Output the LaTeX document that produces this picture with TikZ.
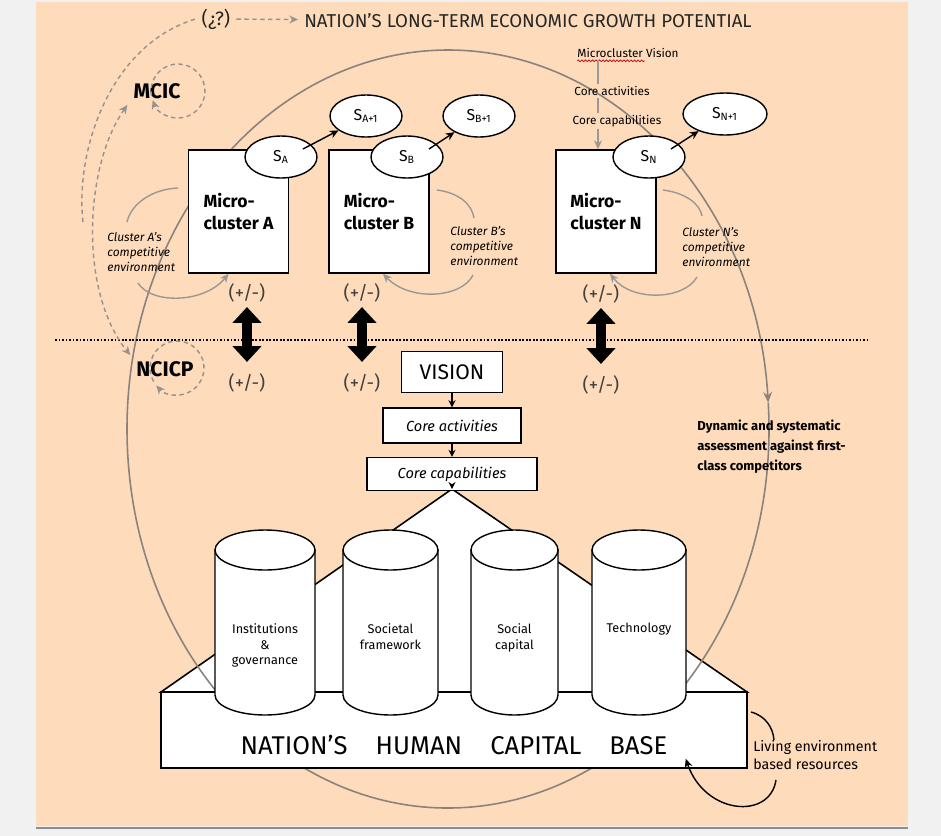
\documentclass[tikz,border=0pt]{standalone}
\usepackage{fontspec}
\setmainfont{Fira Sans}
\usetikzlibrary{arrows.meta,positioning,shapes.geometric,decorations.pathmorphing}
\definecolor{peach}{RGB}{253,219,187}
\definecolor{framegray}{RGB}{241,241,241}
\definecolor{loopgray}{RGB}{138,130,124}
\definecolor{envgray}{RGB}{155,152,150}
\definecolor{dashgray}{RGB}{150,146,142}
\newcommand{\fsz}[2]{\fontsize{#1}{#2}\selectfont}

\begin{document}
\begin{tikzpicture}[x=0.02cm,y=-0.02cm,
  box/.style={draw,fill=white,line width=0.9pt,minimum width=2cm,minimum height=2.46cm,align=left,font=\bfseries\fsz{10}{13}},
  sbox/.style={ellipse,draw,fill=white,line width=0.8pt,minimum width=1.44cm,minimum height=0.84cm,inner sep=0pt,font=\fsz{9}{10}},
  sarrow/.style={line width=0.8pt,-{Stealth[length=5pt,width=4.5pt]}},
  chainarrow/.style={line width=0.7pt,-{Stealth[length=4pt,width=4pt]}},
  envtxt/.style={align=left,anchor=west,inner sep=0pt,font=\itshape\fsz{6.8}{8.5}},
  envline/.style={draw=envgray,line width=0.8pt},
  envarrow/.style={envline,-{Stealth[length=5pt,width=4.5pt]}},
  pm/.style={inner sep=0pt,text=black!75,font=\fsz{10.7}{12}},
  dblarrow/.style={line width=5.5pt,{Triangle[width=16pt,length=9pt]}-{Triangle[width=16pt,length=9pt]},shorten <=2.5pt,shorten >=6.5pt},
  dashline/.style={draw=dashgray,line width=0.8pt,dash pattern=on 2.5pt off 2pt},
  dasharrow/.style={dashline,-{Stealth[length=5pt,width=4.5pt]}},
  cbox/.style={draw,fill=white,line width=0.9pt,inner sep=0pt},
  cyl/.style={draw,fill=white,line width=0.8pt},
  cyltxt/.style={align=center,anchor=north,inner sep=0pt,font=\fsz{7.2}{9}},
  loopline/.style={draw=loopgray,line width=0.9pt},
  smalltxt/.style={inner sep=1pt,font=\fsz{6.7}{8}}
]
% frame
\useasboundingbox (0,0) rectangle (941,836);
\fill[framegray] (0,0) rectangle (941,836);
\fill[peach] (36,2) rectangle (908,826);
\draw[black!45,line width=1pt] (36,828) -- (908,828);

% roof
\coordinate (apex) at (452,489);
\coordinate (roofL) at (161,692);
\coordinate (roofR) at (747,692);
\filldraw[cyl,line width=0.9pt] (apex) -- (roofL) -- (roofR) -- cycle;

% big loop
\coordinate (oc) at (448,429);
\draw[loopline,-{Stealth[length=6pt,width=5pt]}] (oc) ++(-90:321 and 379) arc[start angle=-90,end angle=-4,x radius=321,y radius=379];
\draw[loopline] (oc) ++(-4:321 and 379) arc[start angle=-4,end angle=270,x radius=321,y radius=379];

% base
\node[cbox,minimum width=11.72cm,minimum height=1.52cm] (base) at (454,730) {};
\node[font=\fsz{14.6}{16}] (basetxt) at (454,745) {NATION'S\hspace{16pt}HUMAN\hspace{16pt}CAPITAL\hspace{16pt}BASE};

% pillars
\foreach \xl/\xr/\nm/\txt in {215/315/inst/{Institutions\\\&\\governance},343/438/soc/{Societal\\framework},471/558/cap/{Social\\capital},592/686/tech/{Technology}}{
  \pgfmathsetmacro\cx{(\xl+\xr)/2}
  \pgfmathsetmacro\rx{(\xr-\xl)/2}
  \filldraw[cyl] (\xl,550) -- (\xl,695) arc[start angle=180,end angle=0,x radius=\rx,y radius=20] -- (\xr,550) -- cycle;
  \filldraw[cyl] (\cx,550) ellipse[x radius=\rx,y radius=20];
  \node[cyltxt] (\nm) at (\cx,623) {\txt};
}

% divider
\coordinate (dotL) at (55,340);
\coordinate (dotR) at (868,340);
\draw[line width=1pt,dash pattern=on 1pt off 1pt] (dotL) -- (dotR);

% microclusters
\node[box] (A) at (238.5,211.5) {Micro-\\cluster A};
\node[box] (B) at (379,211.5) {Micro-\\cluster B};
\node[box] (N) at (606,211.5) {Micro-\\cluster N};

\node[sbox] (sA) at (281,157) {S\textsubscript{A}};
\node[sbox] (sA1) at (366,116) {S\textsubscript{A+1}};
\node[sbox] (sB) at (407,157) {S\textsubscript{B}};
\node[sbox] (sB1) at (479,116) {S\textsubscript{B+1}};
\node[sbox] (sN) at (649,157) {S\textsubscript{N}};
\node[sbox,minimum width=1.68cm] (sN1) at (725,114) {S\textsubscript{N+1}};
\draw[sarrow] ([shift={(22,-8)}]sA.center) -- (sA1);
\draw[sarrow] ([shift={(22,-8)}]sB.center) -- (sB1);
\draw[sarrow] ([shift={(22,-8)}]sN.center) -- (sN1);

% competitive environments
\node[envtxt] (envA) at (107,252) {Cluster A's\\competitive\\environment};
\node[envtxt] (envB) at (450,246) {Cluster B's\\competitive\\environment};
\node[envtxt] (envN) at (682,247) {Cluster N's\\competitive\\environment};
\draw[envline] (178,188) .. controls (152,189) and (131,204) .. (127,222);
\draw[envarrow] (138,283) .. controls (152,305) and (205,303) .. ([shift={(-10,0)}]A.south);
\draw[envline] (437,190) .. controls (460,193) and (472,205) .. (474,218);
\draw[envarrow] (473,275) .. controls (462,298) and (410,302) .. ([shift={(4,0)}]B.south);
\draw[envline] (663,190) .. controls (686,193) and (700,204) .. (702,216);
\draw[envarrow] (697,277) .. controls (684,300) and (632,302) .. ([shift={(4,0)}]N.south);

% plus / minus links
\node[pm] (pA1) at (247,293) {(+/-)};
\node[pm] (pA2) at (247,383) {(+/-)};
\node[pm] (pB1) at (362,293) {(+/-)};
\node[pm] (pB2) at (362,383) {(+/-)};
\node[pm] (pN1) at (601,294) {(+/-)};
\node[pm] (pN2) at (601,385) {(+/-)};
\draw[dblarrow] (pA1) -- (pA2);
\draw[dblarrow] (pB1) -- (pB2);
\draw[dblarrow] (pN1) -- (pN2);

% vision chain
\node[cbox,minimum width=2.02cm,minimum height=0.82cm,font=\fsz{12}{14}] (vision) at (452,372) {VISION};
\node[cbox,minimum width=2.76cm,minimum height=0.7cm,font=\itshape\fsz{8.3}{10},below=0.28cm of vision] (coreact) {Core activities};
\node[cbox,minimum width=3.4cm,minimum height=0.66cm,font=\itshape\fsz{8.3}{10},below=0.26cm of coreact] (corecap) {Core capabilities};
\draw[chainarrow] (vision) -- (coreact);
\draw[chainarrow] (coreact) -- (corecap);
\draw[chainarrow] ([yshift=4pt]corecap.south) -- (apex);

% microcluster vision
\node[smalltxt] (mvis) at (628,53) {Microcluster Vision};
\node[smalltxt] (mact) at (612,91) {Core activities};
\node[smalltxt] (mcap) at (617,121) {Core capabilities};
\draw[red!80!black,line width=0.4pt,decorate,decoration={snake,amplitude=0.5pt,segment length=2pt}] ([shift={(2,1)}]mvis.south west) -- ([shift={(-36,1)}]mvis.south east);
\coordinate (vx) at (598,0);
\draw[envline] (mvis.south -| vx) -- (mact.north -| vx);
\draw[envline] (mact.south -| vx) -- (mcap.north -| vx);
\draw[envarrow] (mcap.south -| vx) -- (N.north -| vx);

% title and loops
\node[text=black!85,font=\fsz{10.6}{12}] (title) at (528,21) {NATION'S LONG-TERM ECONOMIC GROWTH POTENTIAL};
\node[text=black!85,font=\fsz{11}{12}] (qm) at (216,19) {(¿?)};
\draw[dasharrow] (qm) -- (title);
\node[font=\bfseries\fsz{12}{14}] (mcic) at (157,91) {MCIC};
\node[font=\bfseries\fsz{12}{14}] (ncicp) at (165,369) {NCICP};
\coordinate (mcicc) at (178,91);
\coordinate (ncicc) at (177,368);
\draw[dasharrow] (mcicc) ++(170:27) arc[start angle=170,end angle=520,radius=27];
\draw[dasharrow] (ncicc) ++(150:27) arc[start angle=150,end angle=500,radius=27];
\draw[dashline] (83,222) .. controls (75,150) and (110,45) .. (qm.west);
\draw[dashline,{Stealth[length=5pt,width=4.5pt]}-{Stealth[length=5pt,width=4.5pt]}] (mcic.south west) .. controls (85,165) and (78,290) .. (ncicp.north west);

% right side notes
\node[font=\bfseries\fsz{7.4}{11.4},align=left,anchor=north west,inner sep=0pt] (assess) at (697,420) {Dynamic and systematic\\assessment against first-\\class competitors};
\node[font=\fsz{8.1}{10},align=left,anchor=west,inner sep=0pt] (living) at (753,755) {Living environment\\based resources};
\coordinate (livA) at (751,712);
\coordinate (livB) at (774,740);
\coordinate (livC) at (776,780);
\draw[line width=0.8pt] (livA) .. controls (766,716) and (773,728) .. (livB);
\draw[line width=0.8pt,-{Stealth[length=5pt,width=4.5pt]}] (livC) .. controls (770,820) and (705,815) .. ([shift={(-62,-10)}]base.south east);

\end{tikzpicture}
\end{document}
